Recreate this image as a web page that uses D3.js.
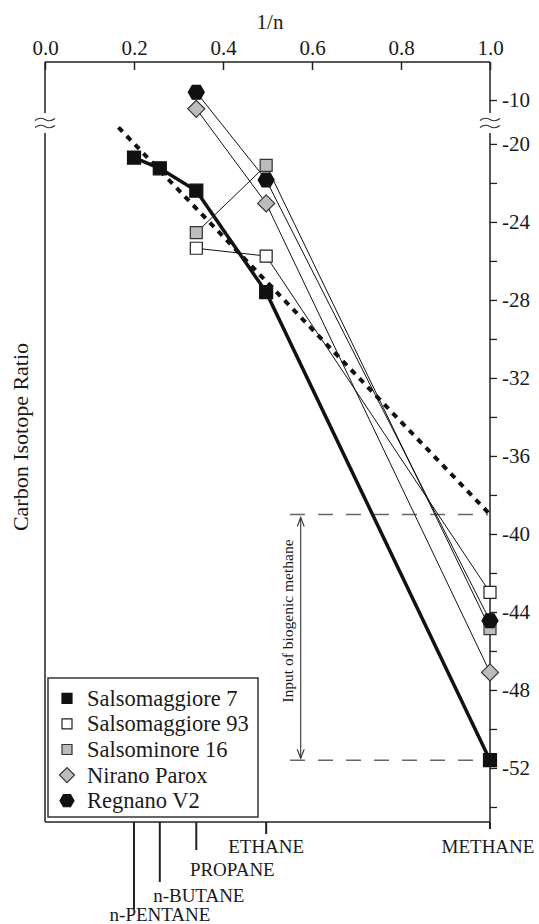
<!DOCTYPE html>
<html><head><meta charset="utf-8">
<script src="https://cdn.jsdelivr.net/npm/d3@7"></script>
<style>
body{margin:0;background:#fff}
svg text{font-family:"Liberation Serif","Times New Roman",serif;fill:#1a1a1a}
</style>
</head><body><svg id="c" width="539" height="924"></svg>
<script>
// ---------- data ----------
const compounds = ["n-PENTANE","n-BUTANE","PROPANE","ETHANE","METHANE"];
const invN = [0.2, 0.258, 0.34, 0.497, 1.0];           // plotted 1/n position of each compound
const seriesNames = ["Salsomaggiore 7","Salsomaggiore 93","Salsominore 16","Nirano Parox","Regnano V2"];
const sals7     = [-20.7, -21.25, -22.4, -27.6, -51.6];
const sals93    = [null, null, -25.35, -25.75, -43.0];
const salsmin16 = [null, null, -24.55, -21.1, -44.85];
const nirano    = [null, null, -10.45, -23.05, -47.1];
const regnano   = [null, null, -9.6, -21.85, -44.45];
const trendX = [0.165, 1.0];
const trendY = [-19.15, -39.0];
const biogenicRange = [-39.0, -51.6];
const topTicks = [0, 0.2, 0.4, 0.6, 0.8, 1.0];
const rightMajor = [-10, -20, -24, -28, -32, -36, -40, -44, -48, -52];
const rightMinor = [-22, -26, -30, -34, -38, -42, -46, -50, -54];

(function () {
// ---------- layout ----------
const L = 45, R = 490, T = 62, B = 822, breakTop = 113, breakBot = 133;
const svg = d3.select("#c");
const x = d3.scaleLinear().domain([0, 1]).range([L, R]);
// broken axis: lower segment -20..-52, upper segment around -10
const y = d3.scaleLinear().domain([-54.77, -19.03, -11.28, -8.05]).range([B, 125, 125, T]);

// ---------- frame ----------
const frame = svg.append("g").attr("stroke", "#222").attr("stroke-width", 1.5).attr("fill", "none");
frame.append("line").attr("x1", L).attr("x2", R).attr("y1", T).attr("y2", T);
frame.append("line").attr("x1", L).attr("x2", R).attr("y1", B).attr("y2", B);
[L, R].forEach(xx => {
  frame.append("line").attr("x1", xx).attr("x2", xx).attr("y1", T).attr("y2", breakTop);
  frame.append("line").attr("x1", xx).attr("x2", xx).attr("y1", breakBot).attr("y2", B);
  [119.5, 126.5].forEach(yy => {
    svg.append("path").attr("d", `M${xx-10},${yy+1} q5,-4 10,-1 t10,-1`)
      .attr("fill", "none").attr("stroke", "#333").attr("stroke-width", 1.1);
  });
});

// ---------- top axis ----------
const topAx = svg.append("g").attr("transform", `translate(0,${T})`)
  .call(d3.axisTop(x).tickValues(topTicks).tickFormat(d3.format(".1f")).tickSizeInner(-8).tickSizeOuter(0).tickPadding(7));
topAx.select(".domain").remove();
topAx.selectAll(".tick line").attr("stroke", "#222").attr("stroke-width", 1.5);
topAx.selectAll(".tick text").attr("font-size", 21).attr("fill", "#1a1a1a");
svg.append("text").attr("x", 270).attr("y", 29).attr("text-anchor", "middle").attr("font-size", 21).text("1/n");

// ---------- right axis ----------
const rightAx = svg.append("g").attr("transform", `translate(${R},0)`)
  .call(d3.axisRight(y).tickValues(rightMajor.concat(rightMinor))
    .tickFormat(d => rightMajor.includes(d) ? String(d) : "").tickSizeInner(7).tickSizeOuter(0).tickPadding(5));
rightAx.select(".domain").remove();
rightAx.selectAll(".tick line").attr("stroke", "#222").attr("stroke-width", 1.3);
rightAx.selectAll(".tick text").attr("font-size", 21).attr("fill", "#1a1a1a");

// y title
svg.append("text").attr("transform", "translate(28,437) rotate(-90)").attr("text-anchor", "middle")
  .attr("font-size", 22).text("Carbon Isotope Ratio");

// ---------- compound ticks below ----------
const tickEnd = [909, 882, 850, 834, 829];
const labelBase = [921, 902, 876, 853, 853];
const labelShift = [26, 39, 36, 0, -2];
compounds.forEach((c, i) => {
  const xx = x(invN[i]);
  svg.append("line").attr("x1", xx).attr("x2", xx).attr("y1", B).attr("y2", tickEnd[i])
    .attr("stroke", "#222").attr("stroke-width", 2);
  svg.append("text").attr("x", xx + labelShift[i]).attr("y", labelBase[i]).attr("text-anchor", "middle")
    .attr("font-size", 19).text(c);
});

// ---------- biogenic annotation ----------
biogenicRange.forEach(v => {
  svg.append("line").attr("x1", 290).attr("x2", R - 2).attr("y1", y(v)).attr("y2", y(v))
    .attr("stroke", "#666").attr("stroke-width", 1.5).attr("stroke-dasharray", "15,13");
});
const ax = 300.7, ay1 = y(biogenicRange[0]) + 3, ay2 = y(biogenicRange[1]) - 2;
const arr = svg.append("g").attr("stroke", "#333").attr("stroke-width", 1.1).attr("fill", "none");
arr.append("line").attr("x1", ax).attr("x2", ax).attr("y1", ay1).attr("y2", ay2);
arr.append("path").attr("d", `M${ax-3.5},${ay1+9} L${ax},${ay1} L${ax+3.5},${ay1+9}`);
arr.append("path").attr("d", `M${ax-3.5},${ay2-9} L${ax},${ay2} L${ax+3.5},${ay2-9}`);
svg.append("text").attr("transform", `translate(293,621) rotate(-90)`).attr("text-anchor", "middle")
  .attr("font-size", 15.5).text("Input of biogenic methane");

// ---------- trend (dotted) ----------
svg.append("line").attr("x1", x(trendX[0])).attr("y1", y(trendY[0])).attr("x2", x(trendX[1])).attr("y2", y(trendY[1]))
  .attr("stroke", "#111").attr("stroke-width", 4).attr("stroke-dasharray", "6,6");

// ---------- series ----------
const seriesVals = [sals7, sals93, salsmin16, nirano, regnano];
const styles = [
  {shape: "square", size: 13, fill: "#111", stroke: "#111", lw: 3.5},
  {shape: "square", size: 12, fill: "#fff", stroke: "#222", lw: 1},
  {shape: "square", size: 12, fill: "#bcbcbc", stroke: "#333", lw: 1},
  {shape: "diamond", size: 8.5, fill: "#bcbcbc", stroke: "#333", lw: 1},
  {shape: "hexagon", size: 8, fill: "#111", stroke: "#111", lw: 1}
];
function shapePath(shape, s) {
  if (shape === "square") { const h = s / 2; return `M${-h},${-h}H${h}V${h}H${-h}Z`; }
  if (shape === "diamond") return `M0,${-s}L${s},0L0,${s}L${-s},0Z`;
  const pts = d3.range(6).map(k => [s * Math.cos(k * Math.PI / 3), s * Math.sin(k * Math.PI / 3)]);
  return "M" + pts.map(p => p.join(",")).join("L") + "Z";
}
const lineGen = d3.line().defined(d => d.v != null).x(d => x(d.x)).y(d => y(d.v));
const order = [1, 2, 3, 4, 0];
order.forEach(si => {
  const pts = seriesVals[si].map((v, i) => ({x: invN[i], v}));
  svg.append("path").datum(pts).attr("d", lineGen).attr("fill", "none")
    .attr("stroke", "#111").attr("stroke-width", styles[si].lw).attr("stroke-linejoin", "miter");
});
order.forEach(si => {
  const st = styles[si];
  const pts = seriesVals[si].map((v, i) => ({x: invN[i], v})).filter(d => d.v != null);
  svg.append("g").selectAll("path").data(pts).join("path")
    .attr("transform", d => `translate(${x(d.x)},${y(d.v)})`)
    .attr("d", shapePath(st.shape, st.size)).attr("fill", st.fill).attr("stroke", st.stroke).attr("stroke-width", 1.2);
});

// ---------- legend ----------
const lg = svg.append("g");
lg.append("rect").attr("x", 48).attr("y", 678).attr("width", 210).attr("height", 139)
  .attr("fill", "#fff").attr("stroke", "#333").attr("stroke-width", 1.5);
const legSizes = [10, 10, 10, 7.5, 7];
seriesNames.forEach((n, i) => {
  const cy = 698.3 + i * 25.6;
  lg.append("path").attr("transform", `translate(67,${cy})`).attr("d", shapePath(styles[i].shape, legSizes[i]))
    .attr("fill", styles[i].fill).attr("stroke", styles[i].stroke).attr("stroke-width", 1.2);
  lg.append("text").attr("x", 87).attr("y", cy + 7.5).attr("font-size", 22.5).text(n);
});
})();
</script>
</body></html>
